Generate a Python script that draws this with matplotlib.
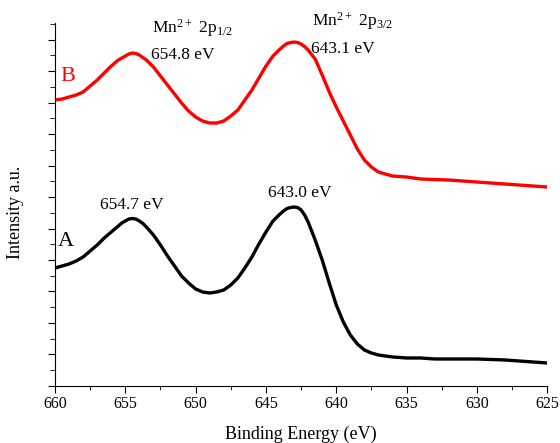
import matplotlib
matplotlib.use("Agg")
import matplotlib.pyplot as plt
from matplotlib.ticker import MultipleLocator, NullFormatter

plt.rcParams["font.family"] = ["Liberation Serif", "DejaVu Serif"]
plt.rcParams["mathtext.default"] = "regular"

# binding energy (eV) and intensity (a.u.)
energy_a = [660, 659.5, 659, 658.5, 658, 657.5, 657, 656.5, 656, 655.5, 655.25, 655, 654.75,
            654.5, 654.25, 654, 653.75, 653.5, 653, 652.5, 652, 651.5, 651, 650.5, 650, 649.5, 649,
            648.5, 648, 647.5, 647, 646.5, 646, 645.5, 645, 644.5, 644, 643.75, 643.5, 643.25, 643,
            642.75, 642.5, 642.25, 642, 641.5, 641, 640.5, 640, 639.5, 639, 638.5, 638, 637.5, 637,
            636, 635, 634, 633, 632, 631, 630, 628, 627, 626, 625]
intensity_a = [118, 120, 122, 125, 129, 135, 141, 148, 154, 160, 163, 165, 167,
               167.5, 167, 165, 162.5, 159, 151, 141, 130, 120, 110, 103, 97, 94, 93,
               94, 96, 101, 108, 118, 129, 142, 154, 165, 172, 175, 177.5, 178.5, 179,
               178.5, 176, 171, 164, 146, 126, 103, 81, 64, 51, 42, 36, 33, 31,
               29, 28, 28, 27, 27, 27, 27, 26, 25, 24, 23]

energy_b = [660, 659.5, 659, 658.5, 658, 657.5, 657, 656.5, 656, 655.5, 655, 654.75, 654.5,
            654.25, 654, 653.5, 653, 652.5, 652, 651.5, 651, 650.5, 650, 649.5, 649, 648.5,
            648, 647.5, 647, 646.5, 646, 645.5, 645, 644.5, 644, 643.75, 643.5, 643.25, 643, 642.75,
            642.5, 642.25, 642, 641.5, 641, 640.5, 640, 639.5, 639, 638.5, 638, 637.5, 637, 636.5,
            636, 635, 634, 632, 630, 628, 625]
intensity_b = [286, 287, 289, 291, 294, 300, 306, 313, 320, 326, 330, 332, 333,
               332.5, 331, 326, 319, 310, 301, 292, 283, 275, 269, 265, 263, 263,
               265, 270, 276, 286, 296, 308, 320, 330, 337, 340, 342.5, 343.5, 344, 343.5,
               342, 339.5, 336, 327, 311, 294, 279, 265, 251, 237, 226, 219, 214, 212,
               210, 209, 207, 206, 204, 202, 199]

fig = plt.figure(figsize=(5.6, 4.43), dpi=100)
ax = fig.add_axes([0.0982, 0.1287, 0.879, 0.8193])

ax.plot(energy_a, intensity_a, color="black", lw=2.4, solid_joinstyle="round")
ax.plot(energy_b, intensity_b, color="red", lw=2.4, solid_joinstyle="round")

ax.set_xlim(660, 625)
ax.set_ylim(0, 363)

for side in ("top", "right"):
    ax.spines[side].set_visible(False)

ax.xaxis.set_major_locator(MultipleLocator(5))
ax.xaxis.set_minor_locator(MultipleLocator(2.5))
ax.yaxis.set_major_locator(MultipleLocator(31.5))
ax.yaxis.set_minor_locator(MultipleLocator(15.75))
ax.yaxis.set_major_formatter(NullFormatter())
ax.tick_params(axis="both", which="both", direction="out")
ax.tick_params(axis="x", which="major", length=5, labelsize=11.5, pad=2)
ax.tick_params(axis="x", which="minor", length=3)
ax.tick_params(axis="y", which="major", length=5)
ax.tick_params(axis="y", which="minor", length=3.5)

ax.set_xlabel("Binding Energy (eV)", fontsize=13, labelpad=10)
ax.set_ylabel("Intensity a.u.", fontsize=13)
ax.yaxis.set_label_coords(-0.063, 0.479)

# labels
txt = dict(fontsize=12.5, va="center", ha="left", clip_on=False)
ax.text(653.1, 358, "Mn$^{2+}$ 2p$_{1/2}$", **txt)
ax.text(653.2, 331, "654.8 eV", **txt)
ax.text(641.7, 365, "Mn$^{2+}$ 2p$_{3/2}$", **txt)
ax.text(641.8, 337, "643.1 eV", **txt)
ax.text(656.8, 181, "654.7 eV", **txt)
ax.text(644.85, 193, "643.0 eV", **txt)
ax.text(659.65, 310, "B", color="red", fontsize=16, va="center", ha="left")
ax.text(659.8, 145, "A", color="black", fontsize=16, va="center", ha="left")

fig.savefig("out.png", dpi=100)
